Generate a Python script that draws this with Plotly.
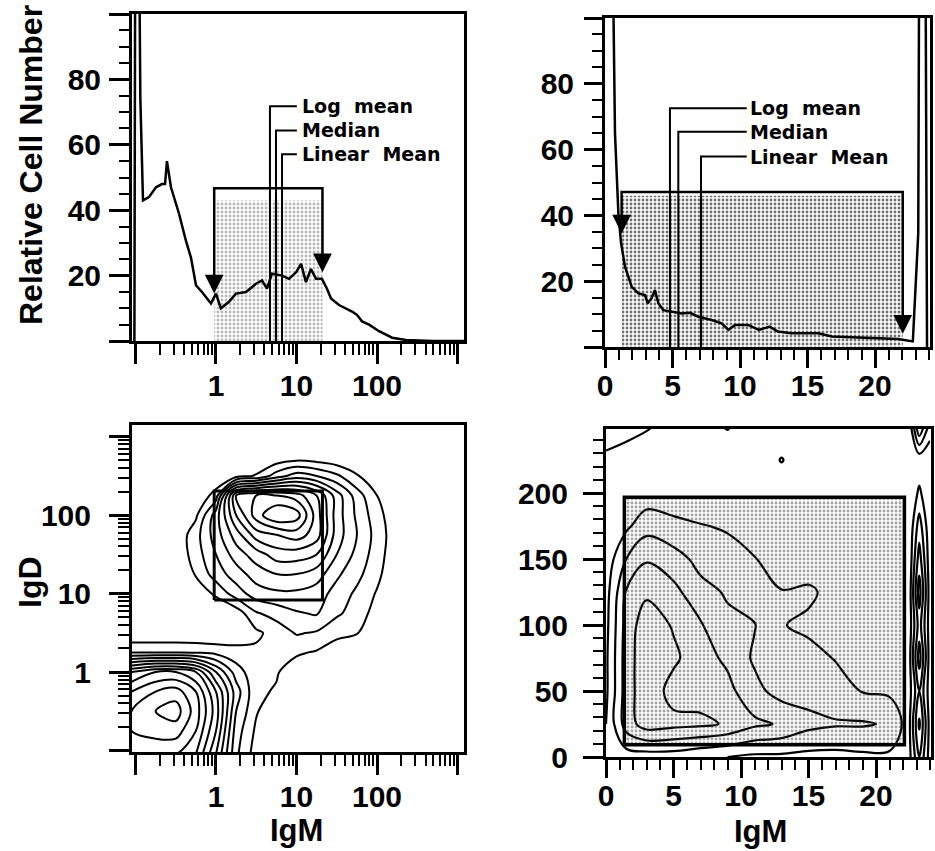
import numpy as np
import plotly.graph_objects as go

W, H = 935, 851

# ---------------- data ----------------
# Top-left: IgM histogram on log channel scale
igm_log_x = [0.097, 0.1, 0.108, 0.115, 0.124, 0.147, 0.18, 0.213, 0.233, 0.246,
             0.276, 0.347, 0.424, 0.489, 0.565, 0.67, 0.867, 1.0, 1.15, 1.45,
             1.77, 2.36, 3.14, 3.73, 4.3, 4.96, 6.61, 8.07, 9.87, 11.4,
             13.1, 15.1, 17.5, 20.7, 23.9, 26.8, 33.7, 41.2, 48.9, 56.4,
             65.1, 79.6, 106, 154, 229, 482, 1200]
igm_log_count = [0, 160, 160, 74, 43, 44, 47, 48, 48, 55,
                 47, 39, 30.6, 25.5, 17, 15, 11.5, 14.5, 10, 12,
                 14.5, 15, 17.5, 18.5, 16, 20.6, 20, 19, 21, 23.6,
                 18, 22, 19, 19, 16, 13, 11, 10, 9, 8,
                 6, 5, 3, 1, 0.3, 0, 0]

# Top-right: IgM histogram on linear channel scale
igm_lin_x = [0.45, 0.74, 0.99, 1.19, 1.48, 1.98, 2.47, 2.96, 3.16, 3.46,
             3.7, 3.95, 4.32, 4.94, 5.68, 6.3, 6.91, 7.9, 8.64, 9.14,
             9.63, 10.6, 11.4, 12.2, 12.8, 13.8, 14.8, 15.8, 16.8, 18.0,
             19.3, 20.5, 21.7, 22.8, 23.2, 23.3, 23.7, 23.85]
igm_lin_count = [160, 65, 40.7, 31.6, 24.4, 18.3, 16.3, 15.8, 13.3, 14.9,
                 17.3, 13.3, 11.2, 10.7, 10.2, 10.4, 9.2, 8.2, 7.2, 5.2,
                 6.7, 6.7, 5.2, 6.2, 4.7, 4.2, 4.2, 4.2, 3.2, 3.0,
                 2.7, 2.4, 2.4, 1.7, 34.6, 160, 160, 0]

stat_names = ["Log\u00a0 mean", "Median", "Linear\u00a0 Mean"]
stats_log = [4.68, 5.56, 6.61]      # log mean, median, linear mean (log panel)
stats_lin = [4.81, 5.43, 7.11]      # same, linear panel

gate_igm_log = [0.95, 21.0]
gate_igm_lin = [1.23, 22.05]
gate_igm_lin2d = [1.36, 22.1]
gate_igd_log = [8.3, 204]
gate_igd_lin = [9.2, 196.7]

# Bottom-left: IgD vs IgM density (log10 units grid)
bl_grid_x = [-1.05, -0.75, -0.5, -0.25, 0, 0.25, 0.5, 0.75, 1.0, 1.25, 1.5, 1.75, 2.0, 2.25, 2.5, 2.75, 3.1]
bl_grid_y = [-1.05, -0.75, -0.5, -0.25, 0, 0.25, 0.5, 0.75, 1.0, 1.25, 1.5, 1.75, 2.0, 2.25, 2.5, 2.75, 3.2]
bl_density = [
    [10, 10, 10, 9, 6, 2.2, 0.5, 0, 0, 0, 0, 0, 0, 0, 0, 0, 0],
    [11, 11.5, 11.5, 10, 7, 2.5, 0.8, 0.1, 0, 0, 0, 0, 0, 0, 0, 0, 0],
    [11, 12, 12.5, 10.5, 7.5, 3, 1.1, 0.2, 0, 0, 0, 0, 0, 0, 0, 0, 0],
    [10, 11, 11.5, 10, 7, 3.5, 1.2, 0.9, 0.1, 0, 0, 0, 0, 0, 0, 0, 0],
    [8, 9, 9, 8, 5, 2.5, 1.3, 1.1, 0.4, 0, 0, 0, 0, 0, 0, 0, 0],
    [2, 2, 2, 1.9, 1.7, 1.4, 1.2, 1.3, 1.15, 0.9, 0.6, 0.3, 0, 0, 0, 0, 0],
    [0, 0, 0, 0, 0, 0.3, 0.8, 1.4, 2.1, 1.9, 1.2, 1.05, 0.4, 0, 0, 0, 0],
    [0, 0, 0, 0, 0, 0.4, 1.9, 2.4, 2.9, 3.1, 2.2, 1.5, 0.6, 0, 0, 0, 0],
    [0, 0, 0, 0.3, 1.2, 2.5, 3.5, 3.8, 3.8, 3.5, 2.6, 1.8, 0.9, 0, 0, 0, 0],
    [0, 0, 0, 1.1, 2.5, 3.5, 4.5, 5, 5, 4.5, 3.2, 2.3, 1.3, 0, 0, 0, 0],
    [0, 0, 0.2, 1.5, 3, 4.5, 5.5, 6.5, 6.5, 6, 4, 2.7, 1.5, 0.2, 0, 0, 0],
    [0, 0, 0.2, 1.6, 3.5, 5.5, 7.5, 8, 8.5, 7.5, 4.5, 3, 1.6, 0.3, 0, 0, 0],
    [0, 0, 0, 0.8, 3.5, 7, 9.5, 11, 10.5, 7.5, 4.5, 2.8, 1.4, 0.2, 0, 0, 0],
    [0, 0, 0, 0, 1.5, 8, 9, 9, 8.5, 7, 4.5, 2.5, 1.0, 0, 0, 0, 0],
    [0, 0, 0, 0, 0, 0.6, 1.1, 2.5, 3.5, 3, 2.2, 1.1, 0.3, 0, 0, 0, 0],
    [0, 0, 0, 0, 0, 0, 0, 0.1, 0.3, 0.2, 0, 0, 0, 0, 0, 0, 0],
    [0, 0, 0, 0, 0, 0, 0, 0, 0, 0, 0, 0, 0, 0, 0, 0, 0],
]

# Bottom-right: IgD vs IgM density (linear channels)
br_grid_x = [0, 1.5, 3, 5, 7, 9, 11, 13, 15, 17, 19, 21, 22.4, 23.2, 24]
br_grid_y = [0, 25, 50, 75, 100, 125, 150, 175, 200, 225, 250]
br_density = [
    [1.5, 1.5, 1.5, 1.5, 1.2, 1.0, 0.8, 0.8, 0.7, 0.7, 0.8, 0.8, 0.5, 3.0, 0.5],
    [1.0, 3.5, 4.5, 4.3, 4.2, 3.9, 3.2, 2.9, 2.3, 2.1, 2.1, 1.9, 0.5, 4.2, 0.5],
    [0.8, 3.5, 4.7, 3.6, 3.6, 3.3, 2.3, 1.6, 1.6, 1.4, 0.95, 0.8, 0.4, 3.0, 0.4],
    [0.8, 3.5, 4.7, 4.2, 3.4, 2.8, 1.85, 1.4, 1.3, 0.95, 0.5, 0.4, 0.3, 4.5, 0.4],
    [0.7, 3.4, 4.6, 3.9, 3.1, 2.2, 2.05, 1.05, 0.8, 0.5, 0.3, 0.2, 0.2, 3.5, 0.4],
    [0.6, 3.1, 3.8, 3.3, 2.3, 1.9, 1.5, 1.05, 1.2, 0.6, 0.2, 0.1, 0.1, 4.5, 0.4],
    [0.4, 2.0, 2.9, 2.4, 1.7, 1.35, 1.05, 0.4, 0.3, 0, 0, 0, 0, 3.5, 0.3],
    [0.2, 0.8, 1.6, 1.3, 1.05, 0.9, 0.5, 0.1, 0, 0, 0, 0, 0, 2.5, 0.2],
    [0.2, 0.3, 0.4, 0.3, 0.3, 0.2, 0.1, 0, 0, 0, 0, 0, 0, 1.2, 0.1],
    [0.8, 0.5, 0.3, 0, 0, 0, 0, 1.08, 0, 0, 0, 0, 0, 0.3, 0.3],
    [1.5, 1.4, 1.1, 0.6, 0.4, 1.1, 0, 0, 0, 0, 0, 0, 0, 4.0, 1.5],
]

# tick labels
log_tickvals = [0.1, 1, 10, 100, 1000]
log_ticktext = ["", "1", "10", "100", ""]
lin_x_tickvals = [0, 5, 10, 15, 20]
lin_x_ticktext = ["0", "5", "10", "15", "20"]
count_tickvals = [0, 20, 40, 60, 80, 100]
count_ticktext = ["", "20", "40", "60", "80", ""]
igd_lin_tickvals = [0, 50, 100, 150, 200]
igd_lin_ticktext = ["0", "50", "100", "150", "200"]

# ---------------- layout helpers ----------------
def dom_x(a, b):
    return [a / W, b / W]

def dom_y(top, bottom):
    return [1 - bottom / H, 1 - top / H]

log_minor = [k * 10.0 ** d for d in range(-1, 3) for k in range(2, 10)]
TICKFONT = dict(family="Liberation Sans, Arial", size=30, color="black", weight="bold")
LABFONT = dict(family="DejaVu Sans", size=19, color="black", weight="bold")
TITLEFONT = dict(family="Liberation Sans, Arial", size=32, color="black", weight="bold")
IGMFONT = dict(family="Liberation Sans, Arial", size=31, color="black", weight="bold")

def axis_common(**kw):
    d = dict(showline=True, linewidth=3, linecolor="black", mirror=True,
             showgrid=False, zeroline=False, ticks="outside", tickcolor="black",
             tickwidth=2.5, tickfont=TICKFONT, fixedrange=True, automargin=False)
    d.update(kw)
    return d

fig = go.Figure()

# ---- shaded gates (stipple) ----
def stipple(x0, x1, y0, y1, xa, ya, opacity):
    fig.add_trace(go.Scatter(
        x=[x0, x1, x1, x0, x0], y=[y0, y0, y1, y1, y0], xaxis=xa, yaxis=ya,
        mode="lines", line=dict(width=0), fill="toself",
        fillcolor="rgba(0,0,0,0)",
        fillpattern=dict(shape=".", fgcolor="#333", bgcolor="rgba(255,255,255,0)",
                         size=4, solidity=0.4, fgopacity=opacity),
        hoverinfo="skip", showlegend=False))

stipple(gate_igm_log[0], gate_igm_log[1], 0, 43, "x", "y", 0.35)
stipple(gate_igm_lin[0], gate_igm_lin[1], 0, 46, "x2", "y2", 0.7)
stipple(gate_igm_lin2d[0], gate_igm_lin2d[1], gate_igd_lin[0], gate_igd_lin[1], "x4", "y4", 0.45)

# ---- histograms ----
fig.add_trace(go.Scatter(x=igm_log_x, y=igm_log_count, xaxis="x", yaxis="y", mode="lines",
                         line=dict(color="black", width=2.5), hoverinfo="skip", showlegend=False))
fig.add_trace(go.Scatter(x=igm_lin_x, y=igm_lin_count, xaxis="x2", yaxis="y2", mode="lines",
                         line=dict(color="black", width=2.5), hoverinfo="skip", showlegend=False))

# ---- gate brackets ----
def bracket(g, top, tips, xa, ya):
    fig.add_trace(go.Scatter(x=[g[0], g[0], g[1], g[1]], y=[tips[0], top, top, tips[1]],
                             xaxis=xa, yaxis=ya, mode="lines",
                             line=dict(color="black", width=2.5), hoverinfo="skip", showlegend=False))

tl_gate_top, tl_tips = 46.7, [15.5, 22]
tr_gate_top, tr_tips = 47.1, [35.5, 5.0]
bracket(gate_igm_log, tl_gate_top, tl_tips, "x", "y")
bracket(gate_igm_lin, tr_gate_top, tr_tips, "x2", "y2")

# ---- statistic markers ----
tl_label_y = [71.8, 64.4, 57.1]
tr_label_y = [72.6, 65.4, 57.9]
tl_line_end, tl_text_x = 10.1, 11.0
tr_line_end, tr_text_x = 10.5, 10.6

annotations = []
for v, yy, name in zip(stats_log, tl_label_y, stat_names):
    fig.add_trace(go.Scatter(x=[v, v, tl_line_end], y=[0, yy, yy], xaxis="x", yaxis="y", mode="lines",
                             line=dict(color="black", width=2), hoverinfo="skip", showlegend=False))
    annotations.append(dict(x=np.log10(tl_text_x), y=yy, xref="x", yref="y", text=name,
                            showarrow=False, xanchor="left", yanchor="middle", font=LABFONT))
for v, yy, name in zip(stats_lin, tr_label_y, stat_names):
    fig.add_trace(go.Scatter(x=[v, v, tr_line_end], y=[0, yy, yy], xaxis="x2", yaxis="y2", mode="lines",
                             line=dict(color="black", width=2), hoverinfo="skip", showlegend=False))
    annotations.append(dict(x=tr_text_x, y=yy, xref="x2", yref="y2", text=name,
                            showarrow=False, xanchor="left", yanchor="middle", font=LABFONT))

# arrowheads
def arrowhead(x, y, xr, yr):
    return dict(x=x, y=y, xref=xr, yref=yr, ax=0, ay=-18, showarrow=True, arrowhead=2,
                arrowsize=1.5, arrowwidth=2.5, arrowcolor="black", text="", standoff=0)

annotations += [arrowhead(np.log10(gate_igm_log[0]), tl_tips[0] - 1, "x", "y"),
                arrowhead(np.log10(gate_igm_log[1]), tl_tips[1] - 1, "x", "y"),
                arrowhead(gate_igm_lin[0], tr_tips[0] - 1, "x2", "y2"),
                arrowhead(gate_igm_lin[1], tr_tips[1] - 1, "x2", "y2")]

# ---- contour plots ----
fig.add_trace(go.Contour(
    x=10 ** np.array(bl_grid_x), y=10 ** np.array(bl_grid_y), z=bl_density,
    xaxis="x3", yaxis="y3", autocontour=False,
    contours=dict(start=1, end=12.5, size=1, coloring="lines", showlabels=False),
    colorscale=[[0, "black"], [1, "black"]], showscale=False,
    line=dict(width=2, smoothing=1.0), hoverinfo="skip"))
fig.add_trace(go.Contour(
    x=br_grid_x, y=br_grid_y, z=br_density,
    xaxis="x4", yaxis="y4", autocontour=False,
    contours=dict(start=1, end=4.5, size=1, coloring="lines", showlabels=False),
    colorscale=[[0, "black"], [1, "black"]], showscale=False,
    line=dict(width=2.2, smoothing=1.0), hoverinfo="skip"))

# gate rectangles on 2D plots
fig.add_trace(go.Scatter(x=[gate_igm_log[0], gate_igm_log[1], gate_igm_log[1], gate_igm_log[0], gate_igm_log[0]],
                         y=[gate_igd_log[0], gate_igd_log[0], gate_igd_log[1], gate_igd_log[1], gate_igd_log[0]],
                         xaxis="x3", yaxis="y3", mode="lines", line=dict(color="black", width=3),
                         hoverinfo="skip", showlegend=False))
fig.add_trace(go.Scatter(x=[gate_igm_lin2d[0], gate_igm_lin2d[1], gate_igm_lin2d[1], gate_igm_lin2d[0], gate_igm_lin2d[0]],
                         y=[gate_igd_lin[0], gate_igd_lin[0], gate_igd_lin[1], gate_igd_lin[1], gate_igd_lin[0]],
                         xaxis="x4", yaxis="y4", mode="lines", line=dict(color="black", width=3.5),
                         hoverinfo="skip", showlegend=False))

# ---- axis titles ----
annotations += [
    dict(x=31 / W, y=1 - 165 / H, xref="paper", yref="paper", text="Relative Cell Number",
         textangle=-90, showarrow=False, font=TITLEFONT, xanchor="center", yanchor="middle"),
    dict(x=30 / W, y=1 - 582 / H, xref="paper", yref="paper", text="IgD",
         textangle=-90, showarrow=False, font=TITLEFONT, xanchor="center", yanchor="middle"),
    dict(x=296 / W, y=1 - 830 / H, xref="paper", yref="paper", text="IgM",
         showarrow=False, font=IGMFONT, xanchor="center", yanchor="middle"),
    dict(x=760 / W, y=1 - 831 / H, xref="paper", yref="paper", text="IgM",
         showarrow=False, font=IGMFONT, xanchor="center", yanchor="middle"),
]

log_x_axis = dict(type="log", range=[-1.043, 3.08], tickmode="array", tickvals=log_tickvals,
                  ticktext=log_ticktext, ticklen=20, ticklabelstandoff=-4,
                  minor=dict(tickmode="array", tickvals=log_minor, ticks="outside", ticklen=11,
                             tickwidth=2, tickcolor="black"))
lin_x_axis = dict(range=[0, 24.07], tickmode="array", tickvals=lin_x_tickvals, ticktext=lin_x_ticktext,
                  ticklen=18, ticklabelstandoff=-8,
                  minor=dict(dtick=1, tick0=0, ticks="outside", ticklen=10, tickwidth=2, tickcolor="black"))

fig.update_layout(
    width=W, height=H, autosize=False, margin=dict(l=0, r=0, t=0, b=0, pad=0, autoexpand=False),
    paper_bgcolor="white", plot_bgcolor="white", showlegend=False,
    xaxis=axis_common(domain=dom_x(132, 464), anchor="y", **log_x_axis),
    yaxis=axis_common(domain=dom_y(14, 341), anchor="x", range=[0, 100], tickmode="array",
                      tickvals=count_tickvals, ticktext=count_ticktext, ticklen=20, ticklabelstandoff=2,
                      minor=dict(dtick=5, tick0=0, ticks="outside", ticklen=10, tickwidth=2, tickcolor="black")),
    xaxis2=axis_common(domain=dom_x(605, 930), anchor="y2", **lin_x_axis),
    yaxis2=axis_common(domain=dom_y(18, 347), anchor="x2", range=[0, 100], tickmode="array",
                       tickvals=count_tickvals, ticktext=count_ticktext, ticklen=18, ticklabelstandoff=4,
                       minor=dict(dtick=5, tick0=0, ticks="outside", ticklen=10, tickwidth=2, tickcolor="black")),
    xaxis3=axis_common(domain=dom_x(132, 464), anchor="y3", **log_x_axis),
    yaxis3=axis_common(domain=dom_y(425, 752), anchor="x3", type="log", range=[-1.02, 3.15],
                       tickmode="array", tickvals=log_tickvals, ticktext=log_ticktext, ticklen=20,
                       ticklabelstandoff=12,
                       minor=dict(tickmode="array", tickvals=log_minor, ticks="outside", ticklen=11,
                                  tickwidth=2, tickcolor="black")),
    xaxis4=axis_common(domain=dom_x(606, 931), anchor="y4", **lin_x_axis),
    yaxis4=axis_common(domain=dom_y(429, 757), anchor="x4", range=[0, 248.5], tickmode="array",
                       tickvals=igd_lin_tickvals, ticktext=igd_lin_ticktext, ticklen=20, ticklabelstandoff=9,
                       minor=dict(dtick=10, tick0=0, ticks="outside", ticklen=10, tickwidth=2, tickcolor="black")),
    annotations=annotations,
)

fig.write_html("out.html", config={"displayModeBar": False},
               post_script=("var s=document.documentElement.style; s.margin='0'; s.padding='0';"
                            "s.overflow='hidden'; s.height='851px';"
                            "var b=document.body.style; b.margin='0'; b.padding='0';"
                            "b.overflow='hidden'; b.height='851px';"))
